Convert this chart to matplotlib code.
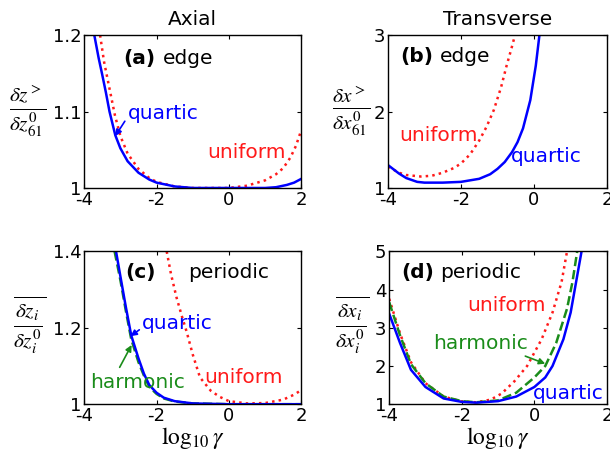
import matplotlib
matplotlib.use("Agg")
import matplotlib.pyplot as plt

plt.rcParams['font.family'] = 'DejaVu Sans'
plt.rcParams['mathtext.fontset'] = 'stix'
plt.rcParams['axes.unicode_minus'] = False

# (a) axial, edge
a_quart_x = [-3.72, -3.6, -3.5, -3.4, -3.3, -3.14, -3.0, -2.8, -2.5, -2.2, -2.0, -1.5, -1.0, 0.0, 1.0, 1.3, 1.6, 1.8, 2.0]
a_quart_y = [1.2, 1.17, 1.148, 1.125, 1.1, 1.069, 1.052, 1.035, 1.02, 1.011, 1.007, 1.002, 1.0, 1.0, 1.0, 1.001, 1.004, 1.007, 1.012]
a_unif_x = [-3.56, -3.45, -3.3, -3.15, -3.0, -2.8, -2.5, -2.2, -2.0, -1.5, -1.0, 0.0, 0.5, 1.0, 1.3, 1.5, 1.7, 1.85, 2.0]
a_unif_y = [1.2, 1.165, 1.13, 1.095, 1.068, 1.045, 1.025, 1.013, 1.008, 1.002, 1.0, 1.0, 1.003, 1.01, 1.018, 1.026, 1.04, 1.055, 1.076]

# (b) transverse, edge
b_quart_x = [-4.0, -3.7, -3.5, -3.2, -3.0, -2.5, -2.0, -1.5, -1.2, -1.0, -0.8, -0.6, -0.45, -0.3, -0.1, 0.05, 0.15]
b_quart_y = [1.30, 1.19, 1.13, 1.08, 1.07, 1.07, 1.08, 1.12, 1.18, 1.25, 1.34, 1.47, 1.6, 1.78, 2.15, 2.6, 3.0]
b_unif_x = [-4.0, -3.7, -3.5, -3.1, -2.8, -2.5, -2.2, -2.0, -1.75, -1.5, -1.3, -1.1, -0.9, -0.75, -0.62, -0.52]
b_unif_y = [1.28, 1.2, 1.17, 1.15, 1.16, 1.2, 1.26, 1.32, 1.44, 1.62, 1.8, 2.02, 2.32, 2.6, 2.82, 3.0]

# (c) axial, periodic
c_quart_x = [-3.12, -3.0, -2.85, -2.7, -2.5, -2.35, -2.2, -2.0, -1.8, -1.5, -1.0, 0.0, 2.0]
c_quart_y = [1.4, 1.335, 1.255, 1.18, 1.12, 1.08, 1.05, 1.03, 1.017, 1.008, 1.002, 1.0, 1.0]
c_harm_x = [-3.16, -3.0, -2.85, -2.7, -2.5, -2.35, -2.2, -2.0, -1.8, -1.5, -1.0, 0.0, 2.0]
c_harm_y = [1.4, 1.325, 1.245, 1.17, 1.11, 1.075, 1.045, 1.027, 1.015, 1.007, 1.002, 1.0, 1.0]
c_unif_x = [-1.72, -1.6, -1.45, -1.3, -1.17, -1.0, -0.8, -0.5, -0.25, 0.0, 0.5, 1.0, 1.5, 1.8, 2.0]
c_unif_y = [1.4, 1.34, 1.28, 1.23, 1.19, 1.13, 1.07, 1.035, 1.019, 1.008, 1.002, 1.003, 1.012, 1.025, 1.037]

# (d) transverse, periodic
d_quart_x = [-4.0, -3.7, -3.4, -3.0, -2.5, -2.0, -1.6, -1.0, -0.5, 0.0, 0.3, 0.5, 0.8, 1.0, 1.15, 1.3]
d_quart_y = [3.37, 2.6, 1.9, 1.45, 1.15, 1.06, 1.04, 1.08, 1.2, 1.45, 1.7, 2.0, 2.7, 3.4, 4.2, 5.0]
d_harm_x = [-4.0, -3.7, -3.4, -3.0, -2.5, -2.0, -1.6, -1.0, -0.5, 0.0, 0.3, 0.6, 0.9, 1.05, 1.18]
d_harm_y = [3.67, 2.8, 2.05, 1.55, 1.2, 1.08, 1.05, 1.1, 1.3, 1.7, 2.0, 2.6, 3.5, 4.2, 5.0]
d_unif_x = [-4.0, -3.7, -3.4, -3.0, -2.5, -2.0, -1.6, -1.2, -0.9, -0.55, -0.2, 0.2, 0.5, 0.75, 0.9]
d_unif_y = [3.76, 2.85, 2.1, 1.55, 1.2, 1.07, 1.05, 1.12, 1.28, 1.6, 2.0, 2.7, 3.4, 4.2, 5.0]

BLUE = '#0000ff'
RED = '#ff1a1a'
GREEN = '#1a8c1a'
TICK_FS = 13
TXT_FS = 14.5
LAB_FS = 22

fig = plt.figure(figsize=(6.1, 4.63), dpi=100)
ax_a = fig.add_axes([0.138, 0.594, 0.356, 0.330])
ax_b = fig.add_axes([0.636, 0.594, 0.359, 0.330])
ax_c = fig.add_axes([0.138, 0.127, 0.356, 0.330])
ax_d = fig.add_axes([0.638, 0.127, 0.357, 0.330])


def style(ax, ylim, yticks, yticklabels):
    ax.set_xlim(-4, 2)
    ax.set_ylim(*ylim)
    ax.set_xticks([-4, -2, 0, 2])
    ax.set_xticklabels(['-4', '-2', '0', '2'])
    ax.set_yticks(yticks)
    ax.set_yticklabels(yticklabels)
    ax.tick_params(direction='in', top=True, right=True, labelsize=TICK_FS,
                   length=3, width=0.8, pad=2)
    for s in ax.spines.values():
        s.set_linewidth(1.0)


def ylab(ax, text, x, y):
    ax.text(x, y, text, transform=ax.transAxes, fontsize=LAB_FS,
            ha='center', va='center')


def arrow(color, shrink_a=0, rel=(0.5, 0.5)):
    return dict(arrowstyle='-|>', color=color, lw=1.2, mutation_scale=9,
                shrinkA=shrink_a, shrinkB=0, relpos=rel)


lw = 1.8

# (a)
ax_a.plot(a_unif_x, a_unif_y, color=RED, ls=':', lw=lw)
ax_a.plot(a_quart_x, a_quart_y, color=BLUE, lw=lw)
style(ax_a, (1, 1.2), [1, 1.1, 1.2], ['1', '1.1', '1.2'])
ax_a.set_title('Axial', fontsize=TXT_FS, pad=7)
ax_a.text(-2.92, 1.17, '(a)', fontsize=TXT_FS, fontweight='bold', va='center')
ax_a.text(-1.82, 1.17, 'edge', fontsize=TXT_FS, va='center')
ax_a.annotate('quartic', xy=(-3.14, 1.068), xytext=(-2.8, 1.098), color=BLUE,
              fontsize=TXT_FS, va='center', arrowprops=arrow(BLUE, rel=(0.0, 0.3)))
ax_a.text(-0.6, 1.047, 'uniform', color=RED, fontsize=TXT_FS, va='center')
ylab(ax_a, r'$\frac{\delta z^{>}}{\delta z_{61}^{0}}$', -0.262, 0.5)

# (b)
ax_b.plot(b_unif_x, b_unif_y, color=RED, ls=':', lw=lw)
ax_b.plot(b_quart_x, b_quart_y, color=BLUE, lw=lw)
style(ax_b, (1, 3), [1, 2, 3], ['1', '2', '3'])
ax_b.set_title('Transverse', fontsize=TXT_FS, pad=7)
ax_b.text(-3.67, 2.72, '(b)', fontsize=TXT_FS, fontweight='bold', va='center')
ax_b.text(-2.58, 2.72, 'edge', fontsize=TXT_FS, va='center')
ax_b.text(-3.7, 1.69, 'uniform', color=RED, fontsize=TXT_FS, va='center')
ax_b.text(-0.62, 1.41, 'quartic', color=BLUE, fontsize=TXT_FS, va='center')
ylab(ax_b, r'$\frac{\delta x^{>}}{\delta x_{61}^{0}}$', -0.17, 0.5)

# (c)
ax_c.plot(c_unif_x, c_unif_y, color=RED, ls=':', lw=lw)
ax_c.plot(c_harm_x, c_harm_y, color=GREEN, ls='--', lw=lw)
ax_c.plot(c_quart_x, c_quart_y, color=BLUE, lw=lw)
style(ax_c, (1, 1.4), [1, 1.2, 1.4], ['1', '1.2', '1.4'])
ax_c.text(-2.87, 1.345, '(c)', fontsize=TXT_FS, fontweight='bold', va='center')
ax_c.text(-1.13, 1.345, 'periodic', fontsize=TXT_FS, va='center')
ax_c.annotate('quartic', xy=(-2.72, 1.178), xytext=(-2.4, 1.21), color=BLUE,
              fontsize=TXT_FS, va='center', arrowprops=arrow(BLUE, rel=(0.0, 0.3)))
ax_c.annotate('harmonic', xy=(-2.69, 1.155), xytext=(-3.83, 1.058), color=GREEN,
              fontsize=TXT_FS, va='center', ha='left',
              arrowprops=arrow(GREEN, shrink_a=2, rel=(0.28, 1.0)))
ax_c.text(-0.68, 1.071, 'uniform', color=RED, fontsize=TXT_FS, va='center')
ax_c.set_xlabel(r'$\log_{10}\gamma$', fontsize=17, labelpad=0)
ylab(ax_c, r'$\overline{\frac{\delta z_i}{\delta z_i^0}}$', -0.25, 0.52)

# (d)
ax_d.plot(d_unif_x, d_unif_y, color=RED, ls=':', lw=lw)
ax_d.plot(d_harm_x, d_harm_y, color=GREEN, ls='--', lw=lw)
ax_d.plot(d_quart_x, d_quart_y, color=BLUE, lw=lw)
style(ax_d, (1, 5), [1, 2, 3, 4, 5], ['1', '2', '3', '4', '5'])
ax_d.text(-3.66, 4.45, '(d)', fontsize=TXT_FS, fontweight='bold', va='center')
ax_d.text(-2.6, 4.45, 'periodic', fontsize=TXT_FS, va='center')
ax_d.text(-1.85, 3.58, 'uniform', color=RED, fontsize=TXT_FS, va='center')
ax_d.annotate('harmonic', xy=(0.3, 2.06), xytext=(-2.8, 2.58), color=GREEN,
              fontsize=TXT_FS, va='center', arrowprops=arrow(GREEN, rel=(0.9, 0.0)))
ax_d.text(-0.03, 1.28, 'quartic', color=BLUE, fontsize=TXT_FS, va='center')
ax_d.set_xlabel(r'$\log_{10}\gamma$', fontsize=17, labelpad=0)
ylab(ax_d, r'$\overline{\frac{\delta x_i}{\delta x_i^0}}$', -0.17, 0.52)

fig.savefig('out.png', dpi=100)
